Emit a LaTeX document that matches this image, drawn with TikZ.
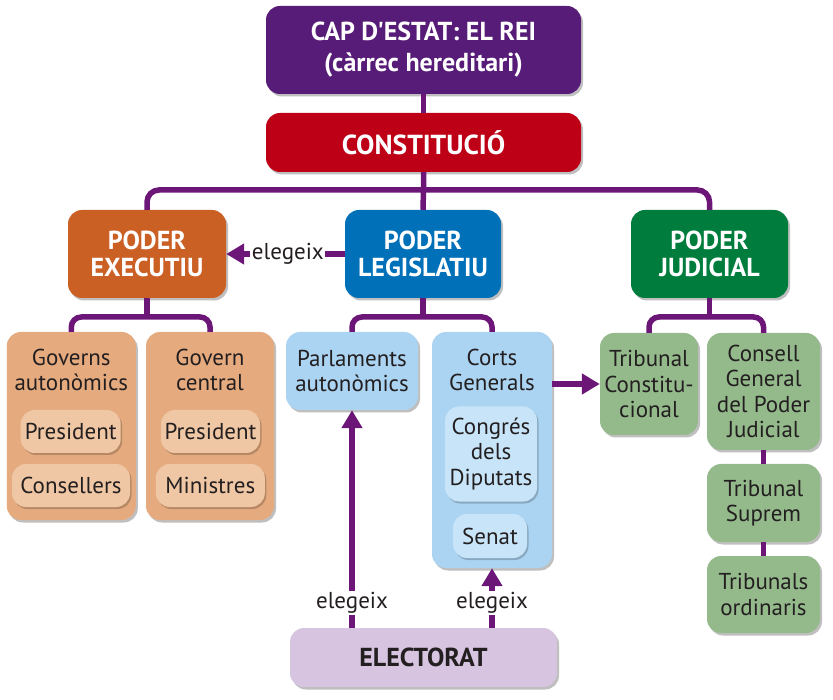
\documentclass[tikz,border=0pt]{standalone}
\usepackage{fontspec}
\setmainfont{PT Sans}
\newfontfamily\capfont{PT Sans}[Ligatures=TeXOff]
\usetikzlibrary{arrows.meta,shadows}
\definecolor{capc}{RGB}{87,27,120}
\definecolor{constc}{RGB}{190,0,22}
\definecolor{exec}{RGB}{203,96,36}
\definecolor{legc}{RGB}{0,112,185}
\definecolor{judc}{RGB}{0,125,60}
\definecolor{tanc}{RGB}{229,170,126}
\definecolor{tanp}{RGB}{240,199,164}
\definecolor{bluc}{RGB}{171,212,242}
\definecolor{blup}{RGB}{200,228,248}
\definecolor{grnc}{RGB}{148,186,140}
\definecolor{elecc}{RGB}{214,196,225}
\definecolor{conc}{RGB}{108,22,120}
\definecolor{txt}{RGB}{35,31,32}
\newcommand\fbody{\fontsize{23}{25.5}\selectfont}
\newcommand\ftitle{\fontsize{26}{27}\selectfont\bfseries}
\tikzset{
  box/.style={rounded corners=14pt, inner sep=0pt, align=center,
    drop shadow={shadow xshift=2pt, shadow yshift=-2.5pt, opacity=0.25, fill=black}},
  bigbox/.style={box, text=white},
  lightbox/.style={box, text=txt, font=\fbody},
  pill/.style={rounded corners=14pt, inner sep=0pt, align=center, text=txt, font=\fbody,
    drop shadow={shadow xshift=1.5pt, shadow yshift=-2pt, opacity=0.2, fill=black}},
  hdr/.style={align=center, text=txt, font=\fbody, inner sep=0pt},
  conn/.style={draw=conc, line width=5.5pt},
  arr/.style={conn, -{Triangle[length=18pt,width=20pt]}},
  lab/.style={fill=white, inner sep=1.5pt, text=txt, font=\fbody}
}
\begin{document}
\begin{tikzpicture}[x=1pt,y=-1pt]
\useasboundingbox (0,0) rectangle (833,700);
\coordinate (busT) at (423.5,190);
\coordinate (exeB) at (147,317);
\coordinate (legB) at (423,317);
\coordinate (judB) at (709.5,317);

% top level boxes
\node[bigbox, fill=capc, minimum width=315pt, minimum height=88pt,
  font=\capfont\fontsize{26}{31}\selectfont\bfseries] (cap) at (423.5,50)
  {CAP D'ESTAT: EL REI\\(càrrec hereditari)};
\node[bigbox, fill=constc, minimum width=315pt, minimum height=59pt,
  font=\fontsize{27.5}{29}\selectfont\bfseries] (const) at (423.5,142.5) {CONSTITUCIÓ};
\node[bigbox, fill=exec, minimum width=158pt, minimum height=88pt, font=\ftitle]
  (exe) at (147,254) {PODER\\EXECUTIU};
\node[bigbox, fill=legc, minimum width=156pt, minimum height=88pt, font=\ftitle]
  (leg) at (423,254) {PODER\\LEGISLATIU};
\node[bigbox, fill=judc, minimum width=157pt, minimum height=88pt, font=\ftitle]
  (jud) at (709.5,254) {PODER\\JUDICIAL};

% executive children
\node[lightbox, fill=tanc, minimum width=129pt, minimum height=188pt] (ga) at (71.3,426) {};
\node[lightbox, fill=tanc, minimum width=128pt, minimum height=188pt] (gc) at (210,426) {};
\node[hdr] (gatxt) at (71.3,370) {Governs\\autonòmics};
\node[hdr] (gctxt) at (210,370) {Govern\\central};
\node[pill, fill=tanp, minimum width=100pt, minimum height=43pt] (pr1) at (70.7,431.5) {President};
\node[pill, fill=tanp, minimum width=118pt, minimum height=43pt] (cons) at (71,485.5) {Consellers};
\node[pill, fill=tanp, minimum width=99pt, minimum height=43pt] (pr2) at (210.5,431.5) {President};
\node[pill, fill=tanp, minimum width=109pt, minimum height=43pt] (mins) at (210.3,485.5) {Ministres};

% legislative children
\node[lightbox, fill=bluc, minimum width=132pt, minimum height=78pt] (parl) at (352,371) {Parlaments\\autonòmics};
\node[lightbox, fill=bluc, minimum width=120pt, minimum height=236pt] (corts) at (492,450) {};
\node[hdr] (cortstxt) at (492,370) {Corts\\Generals};
\node[pill, fill=blup, minimum width=92pt, minimum height=95pt] (cong) at (491,454) {Congrés\\dels\\Diputats};
\node[pill, fill=blup, minimum width=74pt, minimum height=44pt] (senat) at (490,536) {Senat};

% judicial children
\node[lightbox, fill=grnc, minimum width=98pt, minimum height=102pt] (tc) at (649,384) {Tribunal\\Constitu-\\cional};
\node[lightbox, fill=grnc, minimum width=113pt, minimum height=117pt] (cgpj) at (763.5,391.5) {Consell\\General\\del Poder\\Judicial};
\node[lightbox, fill=grnc, minimum width=113pt, minimum height=78pt] (ts) at (763.5,503) {Tribunal\\Suprem};
\node[lightbox, fill=grnc, minimum width=113pt, minimum height=77pt] (tor) at (763.5,594.5) {Tribunals\\ordinaris};

% electorate
\node[box, fill=elecc, text=txt, minimum width=267pt, minimum height=59pt,
  font=\fontsize{26}{28}\selectfont\bfseries] (elec) at (423.5,657.5) {ELECTORAT};

% connectors
\draw[conn] (cap.south) -- (const.north);
\draw[conn, rounded corners=12pt] (exe.north) |- (busT) -| (jud.north);
\draw[conn] (const.south) -- (busT) -- (leg.north);
\draw[conn] (exe.south) -- (exeB);
\draw[conn, rounded corners=10pt] (ga.north) |- (exeB) -| (gc.north);
\draw[conn] (leg.south) -- (legB);
\draw[conn, rounded corners=10pt] (parl.north) |- (legB) -| (corts.north);
\draw[conn] (jud.south) -- (judB);
\draw[conn, rounded corners=10pt] (tc.north) |- (judB) -| (cgpj.north);
\draw[conn] (cgpj.south) -- (ts.north);
\draw[conn] (ts.south) -- (tor.north);

\draw[arr] (leg.west) -- (exe.east) node[lab, pos=0.48] (l1) {elegeix};
\draw[arr] (corts.east |- tc.west) -- (tc.west);
\draw[arr] (parl.south |- elec.north) -- (parl.south) node[lab, pos=0.115] (l2) {elegeix};
\draw[arr] (corts.south |- elec.north) -- (corts.south) node[lab, pos=0.42] (l3) {elegeix};
\end{tikzpicture}
\end{document}
